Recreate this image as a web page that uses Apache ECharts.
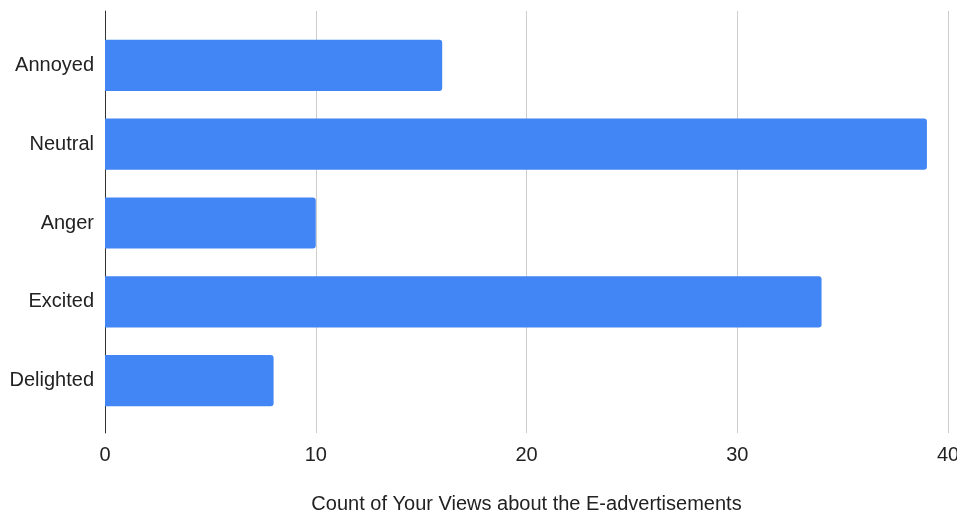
<!DOCTYPE html>
<html>
<head>
<meta charset="utf-8">
<script src="https://cdn.jsdelivr.net/npm/echarts@6/dist/echarts.min.js"></script>
<style>
  html, body { margin: 0; padding: 0; background: #fff; }
  #chart { width: 957px; height: 516px; }
</style>
</head>
<body>
<div id="chart"></div>
<script>
// Responses: how people feel about e-advertisements
const categories = ['Annoyed', 'Neutral', 'Anger', 'Excited', 'Delighted'];
const counts = [16, 39, 10, 34, 8];
const xTicks = { min: 0, max: 40, interval: 10 };
const axisTitle = 'Count of Your Views about the E-advertisements';

const FONT = 'Liberation Sans, Arial, sans-serif';
const TEXT = '#222222';
const FS = 20;

const chart = echarts.init(document.getElementById('chart'), null, { renderer: 'canvas' });

chart.setOption({
  animation: false,
  backgroundColor: '#ffffff',
  textStyle: { fontFamily: FONT },
  grid: [
    // bar area
    { left: 105, right: 9, top: 26, bottom: 96, containLabel: false, outerBoundsMode: 'none' },
    // frame: gridlines, ticks, baseline
    { left: 105, right: 9, top: 11, bottom: 83, containLabel: false, outerBoundsMode: 'none' }
  ],
  xAxis: [
    {
      gridIndex: 0, type: 'value',
      min: xTicks.min, max: xTicks.max, interval: xTicks.interval,
      show: false
    },
    {
      gridIndex: 1, type: 'value',
      min: xTicks.min, max: xTicks.max, interval: xTicks.interval,
      axisLine: { show: false },
      axisTick: { show: false },
      splitLine: { show: true, lineStyle: { color: '#cccccc', width: 1 } },
      axisLabel: { color: TEXT, fontSize: FS, fontFamily: FONT, margin: 12 },
      name: axisTitle,
      nameLocation: 'middle',
      nameGap: 61,
      nameTextStyle: { color: TEXT, fontSize: FS, fontFamily: FONT }
    }
  ],
  yAxis: [
    {
      gridIndex: 0, type: 'category', data: categories, inverse: true,
      axisLine: { show: false },
      axisTick: { show: false },
      splitLine: { show: false },
      axisLabel: { color: TEXT, fontSize: FS, fontFamily: FONT, margin: 11 }
    },
    {
      gridIndex: 1, type: 'value', min: 0, max: 1,
      axisLine: { show: true, lineStyle: { color: '#333333', width: 1 } },
      axisTick: { show: false },
      axisLabel: { show: false },
      splitLine: { show: false }
    }
  ],
  series: [
    {
      type: 'bar',
      xAxisIndex: 0, yAxisIndex: 0,
      data: counts,
      barCategoryGap: '35%',
      itemStyle: { color: '#4285F4', borderRadius: [0, 3, 3, 0] },
      z: 3
    }
  ]
});
</script>
</body>
</html>
